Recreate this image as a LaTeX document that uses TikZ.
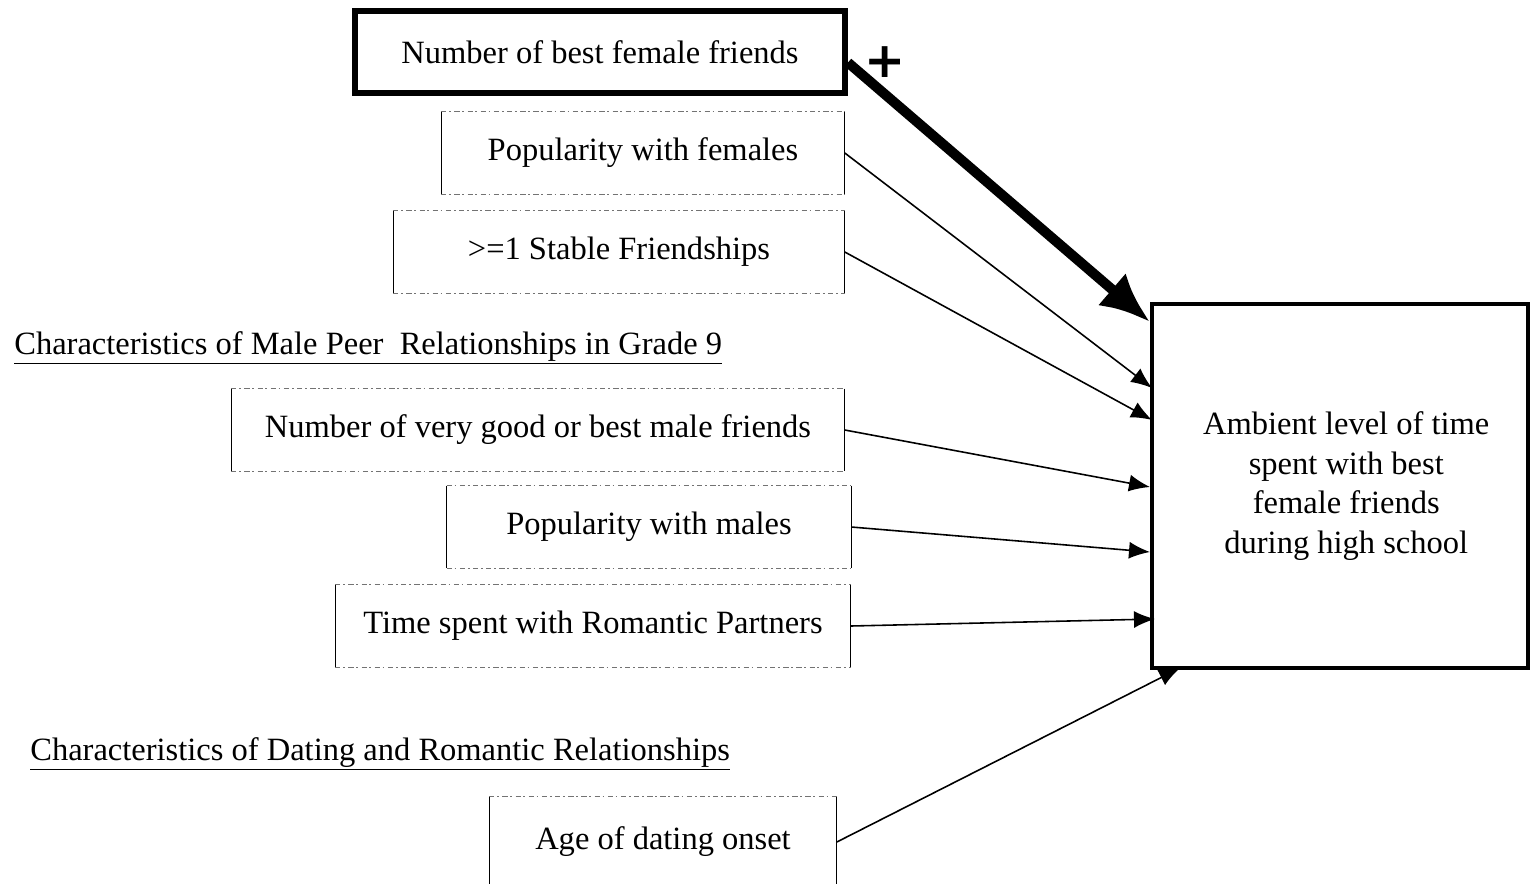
\documentclass[tikz,border=0pt]{standalone}
\usepackage{fontspec}
\setmainfont{Liberation Serif}
\newfontfamily\signfont{DejaVu Sans}
\usetikzlibrary{arrows.meta}

\begin{document}
\begin{tikzpicture}
  [x=0.02cm,y=-0.02cm,
   every node/.style={font=\fontsize{18.5}{22.5}\selectfont},
   factor/.style={minimum height=1.64cm,inner sep=0pt},
   rim/.style={black!55,line width=0.5pt,dash pattern=on 3pt off 1.5pt on 1pt off 2pt},
   side/.style={black,line width=0.6pt},
   link/.style={line width=0.9pt,-{Latex[length=0.42cm,width=0.34cm]}}]
    \useasboundingbox (0,0) rectangle (1530,883);

    \node (nf)[draw,line width=0.12cm,minimum width=9.8cm,minimum height=1.64cm] at (600,52) {Number of best female friends};
    \node (pf)[factor,minimum width=8.06cm] at (643,153) {Popularity with females};
    \node (sf)[factor,minimum width=9.02cm] at (619,252) {>=1 Stable Friendships};
    \node (male)[anchor=west,inner sep=0pt] at (14,348) {\underline{Characteristics of Male Peer\ \ Relationships in Grade 9}};
    \node (mf)[factor,minimum width=12.26cm] at (538,430) {Number of very good or best male friends};
    \node (pm)[factor,minimum width=8.08cm] at (649,527) {Popularity with males};
    \node (tr)[factor,minimum width=10.3cm] at (593,626) {Time spent with Romantic Partners};
    \node (dating)[anchor=west,inner sep=0pt] at (30,754) {\underline{Characteristics of Dating and Romantic Relationships}};
    \node (ad)[factor,minimum width=6.94cm,minimum height=1.8cm] at (663,842) {Age of dating onset};

    \node (goal)[draw,line width=0.08cm,minimum width=7.52cm,minimum height=7.28cm,align=center] at (1340,486)
      {\hspace*{0.25cm}Ambient level of time\\\hspace*{0.25cm}spent with best\\\hspace*{0.25cm}female friends\\\hspace*{0.25cm}during high school};

    \foreach \n in {pf,sf,mf,pm,tr,ad} {
      \draw[rim] (\n.north west) -- (\n.north east);
      \draw[rim] (\n.south west) -- (\n.south east);
      \draw[side] (\n.north west) -- (\n.south west);
      \draw[side] (\n.north east) -- (\n.south east);
    }

    \node (plus) at (885,62) {\signfont\bfseries\fontsize{28}{28}\selectfont +};

    \coordinate (in0) at (1150,322);
    \coordinate (in1) at (1152,388);
    \coordinate (in2) at (1152,420);
    \coordinate (in3) at (1150,487);
    \coordinate (in4) at (1150,552);
    \coordinate (in5) at (1155,619);
    \coordinate (in6) at (1180,668);

    \draw[line width=0.2cm,-{Latex[length=1cm,width=0.85cm]}] ([yshift=-6pt]nf.east) -- (in0);
    \foreach \from/\to in {pf/in1,sf/in2,mf/in3,pm/in4,tr/in5,ad/in6}
      \draw[link] (\from.east) -- (\to);
\end{tikzpicture}
\end{document}
